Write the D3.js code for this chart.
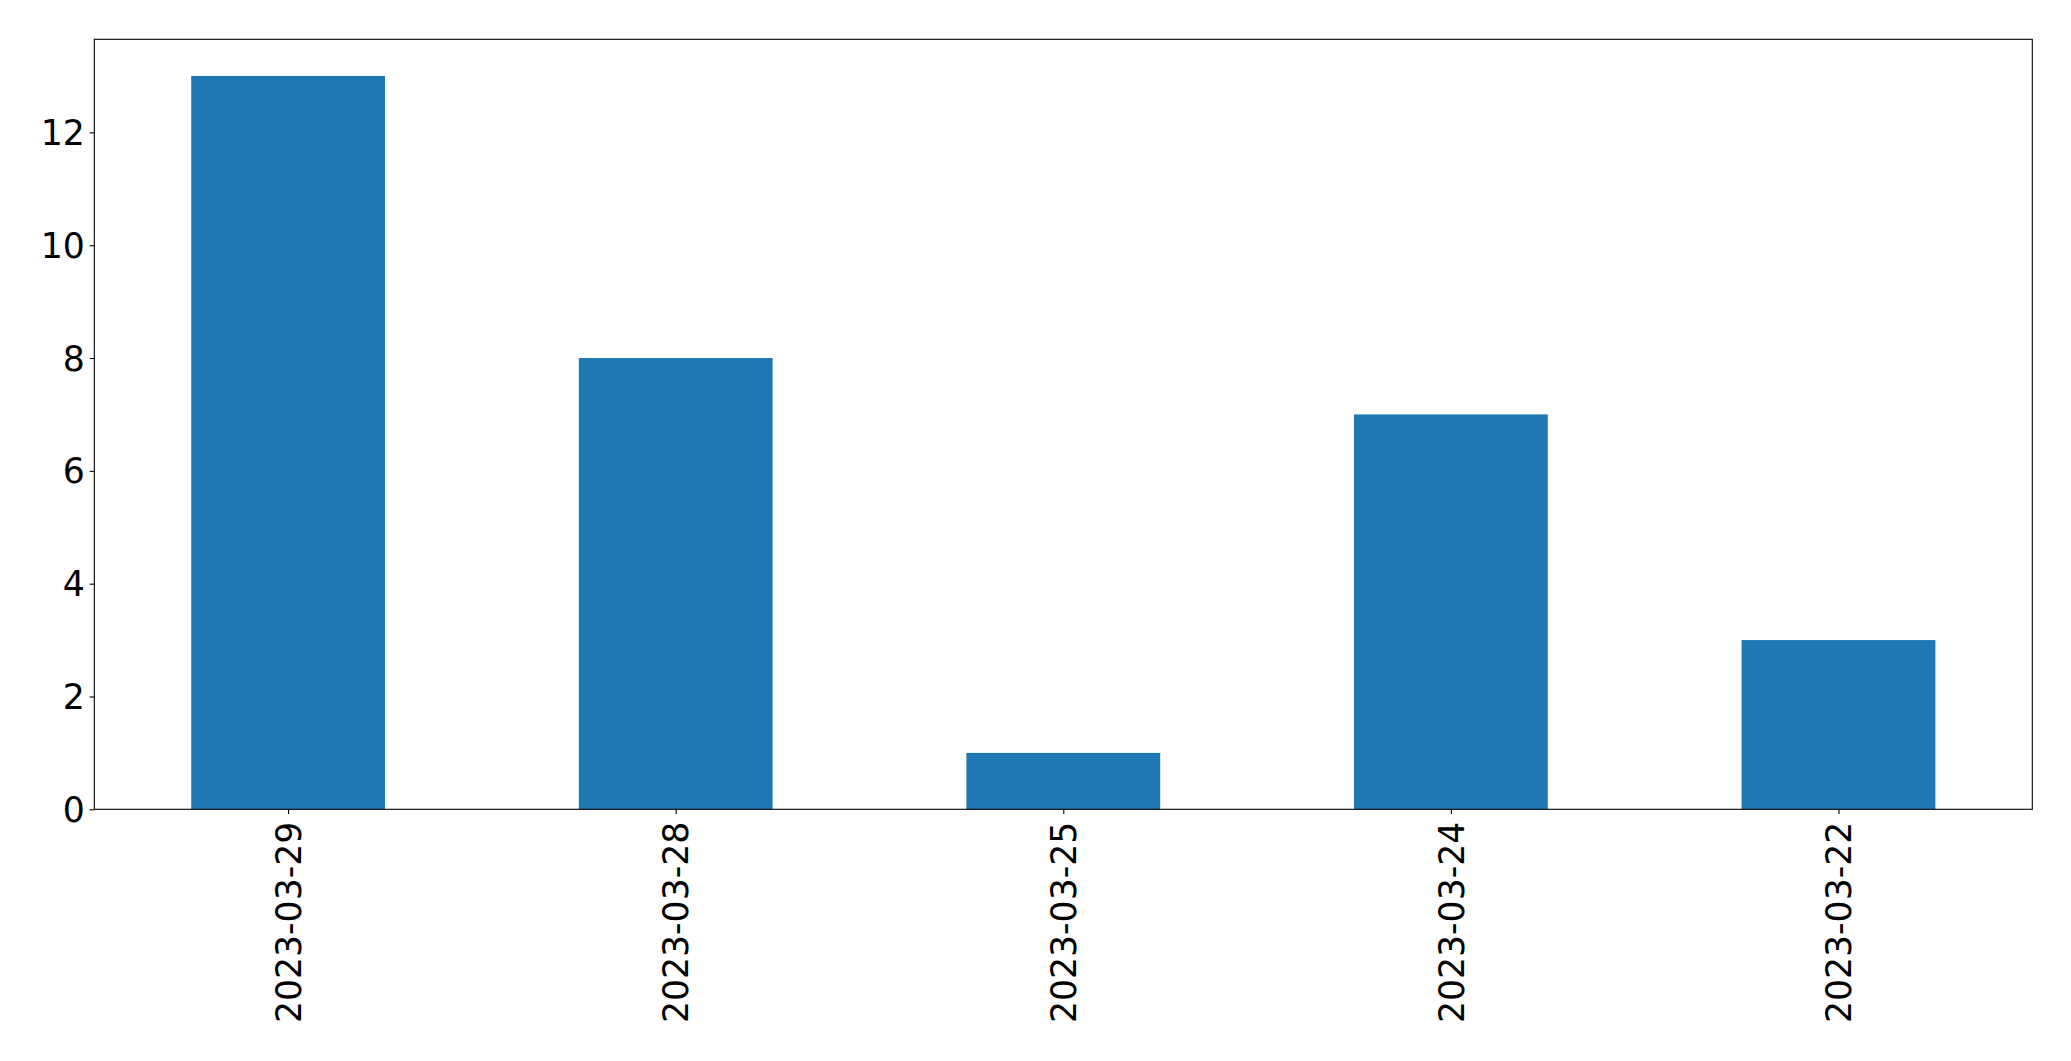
<!DOCTYPE html>
<html>
<head>
<meta charset="utf-8">
<script src="https://cdn.jsdelivr.net/npm/d3@7"></script>
<style>
  html, body { margin: 0; padding: 0; background: #fff; }
  svg { display: block; }
  text { font-family: "DejaVu Sans", sans-serif; }
</style>
</head>
<body>
<svg id="chart" width="2071" height="1061"></svg>
<script>
const categories = ["2023-03-29", "2023-03-28", "2023-03-25", "2023-03-24", "2023-03-22"];
const values = [13, 8, 1, 7, 3];
const yTicks = [0, 2, 4, 6, 8, 10, 12];

const W = 2071, H = 1061;
const margin = { left: 94.3, right: W - 2032.3, top: 39.3, bottom: H - 809.3 };
const svg = d3.select("#chart");

const x = d3.scaleLinear()
  .domain([-0.5, categories.length - 0.5])
  .range([margin.left, W - margin.right]);
const yMax = d3.max(values) * 1.05;
const y = d3.scaleLinear().domain([0, yMax]).range([H - margin.bottom, margin.top]);

const barW = x(0.25) - x(-0.25);

svg.append("g").selectAll("rect")
  .data(values)
  .join("rect")
  .attr("x", (d, i) => x(i) - barW / 2)
  .attr("y", d => y(d))
  .attr("width", barW)
  .attr("height", d => y(0) - y(d))
  .attr("fill", "#1f77b4");

const fontSize = 34.67;
const tickLen = 4.7;
const pad = 4.7;

// Y axis
const yAxis = d3.axisLeft(y).tickValues(yTicks).tickSize(tickLen).tickPadding(pad).tickFormat(d3.format("d"));
const gy = svg.append("g").attr("transform", `translate(${margin.left},0)`).call(yAxis);
gy.select(".domain").remove();
gy.selectAll(".tick line").attr("stroke", "#000").attr("stroke-width", 1.1);
gy.selectAll(".tick text").attr("font-size", fontSize).attr("fill", "#000")
  .attr("font-family", "DejaVu Sans").attr("dy", "0.35em");

// X axis
const xAxis = d3.axisBottom(x).tickValues(d3.range(categories.length))
  .tickFormat(i => categories[i]).tickSize(tickLen).tickPadding(pad);
const gx = svg.append("g").attr("transform", `translate(0,${H - margin.bottom})`).call(xAxis);
gx.select(".domain").remove();
gx.selectAll(".tick line").attr("stroke", "#000").attr("stroke-width", 1.1);
gx.selectAll(".tick text")
  .attr("font-size", fontSize).attr("fill", "#000").attr("font-family", "DejaVu Sans")
  .attr("transform", `translate(0,${tickLen + pad + 3}) rotate(-90)`)
  .attr("x", 0).attr("y", 0).attr("dy", "0.35em")
  .attr("text-anchor", "end");

// Frame
svg.append("rect")
  .attr("x", margin.left).attr("y", margin.top)
  .attr("width", W - margin.left - margin.right)
  .attr("height", H - margin.top - margin.bottom)
  .attr("fill", "none").attr("stroke", "#000").attr("stroke-width", 1.1);
</script>
</body>
</html>
